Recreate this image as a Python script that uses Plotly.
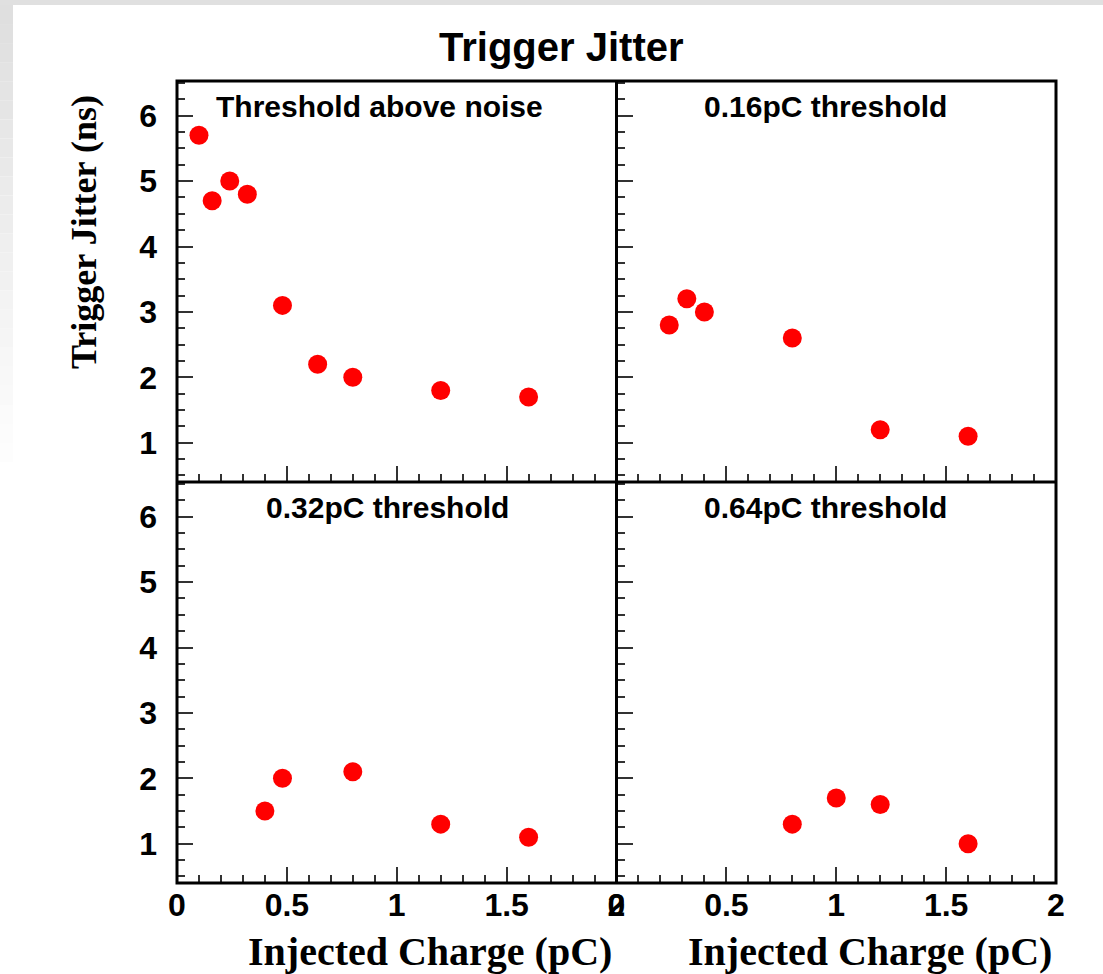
import plotly.graph_objects as go

# ---------------- data ----------------
panel_titles = ["Threshold above noise", "0.16pC threshold", "0.32pC threshold", "0.64pC threshold"]

x_noise = [0.10, 0.16, 0.24, 0.32, 0.48, 0.64, 0.80, 1.20, 1.60]
y_noise = [5.7, 4.7, 5.0, 4.8, 3.1, 2.2, 2.0, 1.8, 1.7]

x_016 = [0.24, 0.32, 0.40, 0.80, 1.20, 1.60]
y_016 = [2.8, 3.2, 3.0, 2.6, 1.2, 1.1]

x_032 = [0.40, 0.48, 0.80, 1.20, 1.60]
y_032 = [1.5, 2.0, 2.1, 1.3, 1.1]

x_064 = [0.80, 1.00, 1.20, 1.60]
y_064 = [1.3, 1.7, 1.6, 1.0]

x_tick_vals = [0, 0.5, 1, 1.5, 2]
x_tick_text = ["0", "0.5", "1", "1.5", "2"]
y_tick_vals = [1, 2, 3, 4, 5, 6]
y_tick_text = ["1", "2", "3", "4", "5", "6"]

main_title = "Trigger Jitter"
x_title = "Injected Charge (pC)"
y_title = "Trigger Jitter (ns)"

# ---------------- layout geometry ----------------
W, H = 1103, 974
ML, MR, MT, MB = 177, 47, 81, 91
PW, PH = W - ML - MR, H - MT - MB


def px(xp):
    return (xp - ML) / PW


def py(yp):
    return (H - MB - yp) / PH


SANS = "Liberation Sans, Arial, Helvetica, sans-serif"
SERIF = "Liberation Serif, Times New Roman, serif"

fig = go.Figure()

series = [(x_noise, y_noise), (x_016, y_016), (x_032, y_032), (x_064, y_064)]
for i, (xs, ys) in enumerate(series):
    fig.add_trace(go.Scatter(
        x=xs, y=ys, mode="markers",
        marker=dict(color="#ff0000", size=19, line=dict(width=0)),
        xaxis="x" if i == 0 else f"x{i+1}",
        yaxis="y" if i == 0 else f"y{i+1}",
        showlegend=False, hoverinfo="x+y",
    ))

xdom = [[0, 0.5], [0.5, 1.0], [0, 0.5], [0.5, 1.0]]
ydom = [[0.5, 1.0], [0.5, 1.0], [0, 0.5], [0, 0.5]]

layout = dict(
    width=W, height=H,
    margin=dict(l=ML, r=MR, t=MT, b=MB, pad=0),
    paper_bgcolor="white", plot_bgcolor="rgba(0,0,0,0)",
    showlegend=False,
)

for i in range(4):
    xk = "xaxis" if i == 0 else f"xaxis{i+1}"
    yk = "yaxis" if i == 0 else f"yaxis{i+1}"
    xa = "x" if i == 0 else f"x{i+1}"
    ya = "y" if i == 0 else f"y{i+1}"
    layout[xk] = dict(
        domain=xdom[i], anchor=ya, range=[0, 2],
        showgrid=False, zeroline=False, showline=False,
        ticks="inside", ticklen=16, tickwidth=1.5, tickcolor="#333",
        tickvals=x_tick_vals, ticktext=x_tick_text,
        showticklabels=(i >= 2),
        tickfont=dict(family=SANS, size=32, color="black", weight="bold"),
        ticklabelstandoff=0,
        minor=dict(dtick=0.1, tick0=0, ticks="inside", ticklen=8, tickwidth=1.5, tickcolor="#333"),
        fixedrange=True,
    )
    layout[yk] = dict(
        domain=ydom[i], anchor=xa, range=[0.4, 6.53],
        showgrid=False, zeroline=False, showline=False,
        ticks="inside", ticklen=16, tickwidth=1.5, tickcolor="#333",
        tickvals=y_tick_vals, ticktext=y_tick_text,
        showticklabels=(i % 2 == 0),
        tickfont=dict(family=SANS, size=32, color="black", weight="bold"),
        ticklabelstandoff=19,
        minor=dict(dtick=0.25, tick0=0, ticks="inside", ticklen=8, tickwidth=1.5, tickcolor="#333"),
        fixedrange=True,
    )

fig.update_layout(**layout)

# ---------------- background decoration (canvas shadow) and frames ----------------
shapes = []
shapes.append(dict(type="rect", xref="paper", yref="paper",
                   x0=px(0), x1=px(W), y0=py(5), y1=py(0),
                   fillcolor="#e0e0e0", line=dict(width=0), layer="below"))
nseg = 24
top, bot = 5, 462
for k in range(nseg):
    y0p = top + (bot - top) * k / nseg
    y1p = top + (bot - top) * (k + 1) / nseg
    t = (k + 0.5) / nseg
    g = int(round(222 + (254 - 222) * t))
    shapes.append(dict(type="rect", xref="paper", yref="paper",
                       x0=px(0), x1=px(13), y0=py(y1p), y1=py(y0p),
                       fillcolor=f"rgb({g},{g},{g})", line=dict(width=0), layer="below"))

frame = dict(color="black", width=3)
shapes.append(dict(type="rect", xref="paper", yref="paper", x0=0, x1=1, y0=0, y1=1,
                   line=frame, fillcolor="rgba(0,0,0,0)", layer="above"))
shapes.append(dict(type="line", xref="paper", yref="paper", x0=0.5, x1=0.5, y0=0, y1=1,
                   line=frame, layer="above"))
shapes.append(dict(type="line", xref="paper", yref="paper", x0=0, x1=1, y0=0.5, y1=0.5,
                   line=frame, layer="above"))
fig.update_layout(shapes=shapes)

# ---------------- texts ----------------
ann = []
ann.append(dict(text=main_title, x=px(561), y=py(47), xref="paper", yref="paper",
                xanchor="center", yanchor="middle", showarrow=False,
                font=dict(family=SANS, size=40, color="black", weight="bold")))

label_pos = [(379, 106), (825, 106), (387, 507), (825, 507)]
for txt, (lx, ly) in zip(panel_titles, label_pos):
    ann.append(dict(text=txt, x=px(lx), y=py(ly), xref="paper", yref="paper",
                    xanchor="center", yanchor="middle", showarrow=False,
                    font=dict(family=SERIF if False else SANS, size=30, color="black", weight="bold")))

for xr in (614, 1054):
    ann.append(dict(text=x_title, x=px(xr), y=py(951), xref="paper", yref="paper",
                    xanchor="right", yanchor="middle", showarrow=False,
                    font=dict(family=SERIF, size=40, color="black", weight="bold")))

ann.append(dict(text=y_title, x=px(84), y=py(232), xref="paper", yref="paper",
                xanchor="center", yanchor="middle", showarrow=False, textangle=-90,
                font=dict(family=SERIF, size=36, color="black", weight="bold")))

fig.update_layout(annotations=ann)

fig.write_html("out.html")
